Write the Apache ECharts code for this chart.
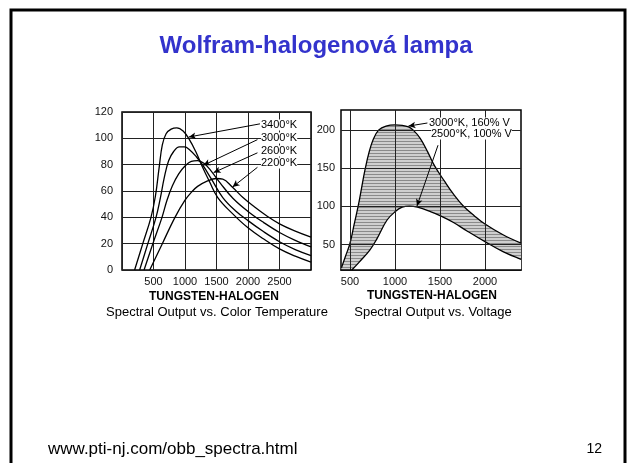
<!DOCTYPE html>
<html>
<head>
<meta charset="utf-8">
<script src="https://cdn.jsdelivr.net/npm/echarts@6/dist/echarts.min.js"></script>
<style>
  html, body { margin: 0; padding: 0; background: #fff; }
  #chart { width: 629px; height: 463px; }
</style>
</head>
<body>
<div id="chart"></div>
<script>
  // levy graf: spektralni vykon podle teploty (nm, rel. jednotky)
  var k3400 = [[200,0],[330,20],[460,40],[530,56],[590,78],[640,95],[700,103.5],[780,107],[870,108],[970,105.5],[1070,99],[1170,90],[1270,79],[1390,67],[1520,55],[1750,43],[2000,32],[2250,23.5],[2500,16],[2750,10.5],[3000,6]];
  var k3000 = [[280,0],[410,20],[540,40],[610,55],[670,70],[740,83],[820,90],[910,93.5],[990,93.5],[1080,91],[1180,86],[1290,79],[1420,69],[1600,55],[1800,45],[2000,37.5],[2250,29],[2500,21.5],[2750,15.5],[3000,11]];
  var k2600 = [[350,0],[490,20],[635,40],[714,53],[800,64],[900,73],[1000,79],[1100,82.5],[1200,83],[1300,81],[1410,75.5],[1560,66],[1760,54.5],[2000,44.5],[2250,36],[2500,28.5],[2750,22.5],[3000,17.5]];
  var k2200 = [[440,0],[640,20],[841,40],[1000,53],[1100,59],[1200,63.5],[1350,67.5],[1500,69.5],[1600,69],[1750,63],[1920,55],[2100,48],[2300,41],[2500,35],[2750,29.5],[3000,25]];
  var leftNames = ['3400°K', '3000°K', '2600°K', '2200°K'];

  // pravy graf: podle napeti
  var hot = [[405,20],[450,35],[500,52],[545,76],[590,100],[630,125],[667,148],[710,170],[760,188],[820,200],[900,205],[1000,206.5],[1080,206],[1150,204],[1200,200],[1280,189],[1360,172],[1440,153],[1550,133],[1650,116],[1756,101],[1880,88],[2000,77],[2200,63],[2400,52]];
  var warm = [[520,17],[600,27],[720,43],[800,58],[910,82],[1000,93],[1080,99],[1160,100.5],[1250,99],[1400,93],[1500,88],[1650,79],[1800,68],[2000,54],[2200,41],[2400,31]];
  var rightNames = ['3000°K, 160% V', '2500°K, 100% V'];
  var rightXTicks = [500, 1000, 1500, 2000];
  var rightYTicks = [50, 100, 150, 200];

  var font = "'Liberation Sans', Arial, sans-serif";
  var gridLine = { show: true, lineStyle: { color: '#222', width: 1 } };
  var plain = function (v) { return String(v); };

  // srafovani
  var hatch = document.createElement('canvas');
  hatch.width = 4; hatch.height = 3;
  var ctx = hatch.getContext('2d');
  ctx.fillStyle = '#cfcfcf';
  ctx.fillRect(0, 0, 4, 3);
  ctx.fillStyle = '#8a8a8a';
  ctx.fillRect(0, 0, 4, 1);

  function arrow(from, to) {
    return {
      silent: true,
      symbol: ['none', 'arrow'],
      symbolSize: [5, 7],
      label: { show: false },
      lineStyle: { color: '#000', width: 1, type: 'solid' },
      animation: false,
      data: [[{ coord: from }, { coord: to }]]
    };
  }

  function curve(name, data, x, y, extra) {
    var s = {
      name: name,
      type: 'line',
      xAxisIndex: x,
      yAxisIndex: y,
      data: data,
      smooth: 0.4,
      symbol: 'none',
      lineStyle: { color: '#000', width: 1.3 }
    };
    for (var k in extra) s[k] = extra[k];
    return s;
  }

  function label(x, y, text) {
    return { type: 'text', x: x, y: y, z: 20, style: { text: text, fill: '#000', font: '11px ' + font, verticalAlign: 'middle', backgroundColor: '#fff' } };
  }

  var myChart = echarts.init(document.getElementById('chart'));
  var option = {
    backgroundColor: '#fff',
    animation: false,
    textStyle: { fontFamily: font },
    grid: [
      { left: 122, top: 112, width: 189, height: 158, show: true, borderColor: '#000', borderWidth: 1.5 },
      { left: 341, top: 110, width: 180, height: 160, show: true, borderColor: '#000', borderWidth: 1.5 }
    ],
    xAxis: [
      {
        type: 'value', gridIndex: 0, min: 0, max: 3000, interval: 500,
        axisLine: { show: false }, axisTick: { show: false },
        axisLabel: { color: '#111', fontSize: 11, margin: 6, showMinLabel: false, showMaxLabel: false, formatter: plain, fontFamily: font },
        splitLine: gridLine
      },
      {
        type: 'value', gridIndex: 1, min: 400, max: 2400, z: 10,
        axisLine: { show: true, lineStyle: { color: '#000', width: 1.5 } },
        axisTick: { show: false, customValues: rightXTicks },
        axisLabel: { color: '#111', fontSize: 11, margin: 6, customValues: rightXTicks, formatter: plain, fontFamily: font },
        splitLine: gridLine
      }
    ],
    yAxis: [
      {
        type: 'value', gridIndex: 0, min: 0, max: 120, interval: 20,
        axisLine: { show: false }, axisTick: { show: false },
        axisLabel: { color: '#111', fontSize: 11, margin: 9, fontFamily: font },
        splitLine: gridLine
      },
      {
        type: 'value', gridIndex: 1, min: 17, max: 226, z: 10,
        axisLine: { show: false },
        axisTick: { show: false, customValues: rightYTicks },
        axisLabel: { color: '#111', fontSize: 11, margin: 6, customValues: rightYTicks, fontFamily: font },
        splitLine: gridLine
      }
    ],
    series: [
      curve(leftNames[0], k3400, 0, 0, { markLine: arrow([2190, 111], [1060, 101]) }),
      curve(leftNames[1], k3000, 0, 0, { markLine: arrow([2150, 99], [1290, 79.5]) }),
      curve(leftNames[2], k2600, 0, 0, { markLine: arrow([2150, 89], [1455, 74]) }),
      curve(leftNames[3], k2200, 0, 0, { markLine: arrow([2150, 78], [1755, 63]) }),
      curve(rightNames[0], hot, 1, 1, {
        areaStyle: { color: { image: hatch, repeat: 'repeat' }, opacity: 1 },
        markLine: arrow([1360, 209], [1150, 205])
      }),
      curve(rightNames[1], warm, 1, 1, {
        areaStyle: { color: '#fff', opacity: 1 },
        markLine: arrow([1478, 180], [1244, 100.5])
      })
    ],
    graphic: [
      { type: 'rect', shape: { x: 11, y: 10, width: 614, height: 470 }, style: { fill: 'none', stroke: '#000', lineWidth: 3 } },
      { type: 'text', x: 316, y: 46, style: { text: 'Wolfram-halogenová lampa', fill: '#3333cc', font: 'bold 24px ' + font, align: 'center', verticalAlign: 'middle' } },
      { type: 'text', x: 48, y: 449, style: { text: 'www.pti-nj.com/obb_spectra.html', fill: '#000', font: '17px ' + font, verticalAlign: 'middle' } },
      { type: 'text', x: 602, y: 449, style: { text: '12', fill: '#000', font: '14px ' + font, align: 'right', verticalAlign: 'middle' } },

      // popisky leveho grafu
      label(261, 125, leftNames[0]),
      label(261, 138, leftNames[1]),
      label(261, 151, leftNames[2]),
      label(261, 163, leftNames[3]),
      { type: 'text', x: 214, y: 297, style: { text: 'TUNGSTEN-HALOGEN', fill: '#000', font: 'bold 12px ' + font, align: 'center', verticalAlign: 'middle' } },
      { type: 'text', x: 217, y: 312, style: { text: 'Spectral Output vs. Color Temperature', fill: '#000', font: '13px ' + font, align: 'center', verticalAlign: 'middle' } },

      // popisky praveho grafu
      label(429, 123, rightNames[0]),
      label(431, 134, rightNames[1]),
      { type: 'text', x: 432, y: 296, style: { text: 'TUNGSTEN-HALOGEN', fill: '#000', font: 'bold 12px ' + font, align: 'center', verticalAlign: 'middle' } },
      { type: 'text', x: 433, y: 312, style: { text: 'Spectral Output vs. Voltage', fill: '#000', font: '13px ' + font, align: 'center', verticalAlign: 'middle' } }
    ]
  };
  myChart.setOption(option);
</script>
</body>
</html>
